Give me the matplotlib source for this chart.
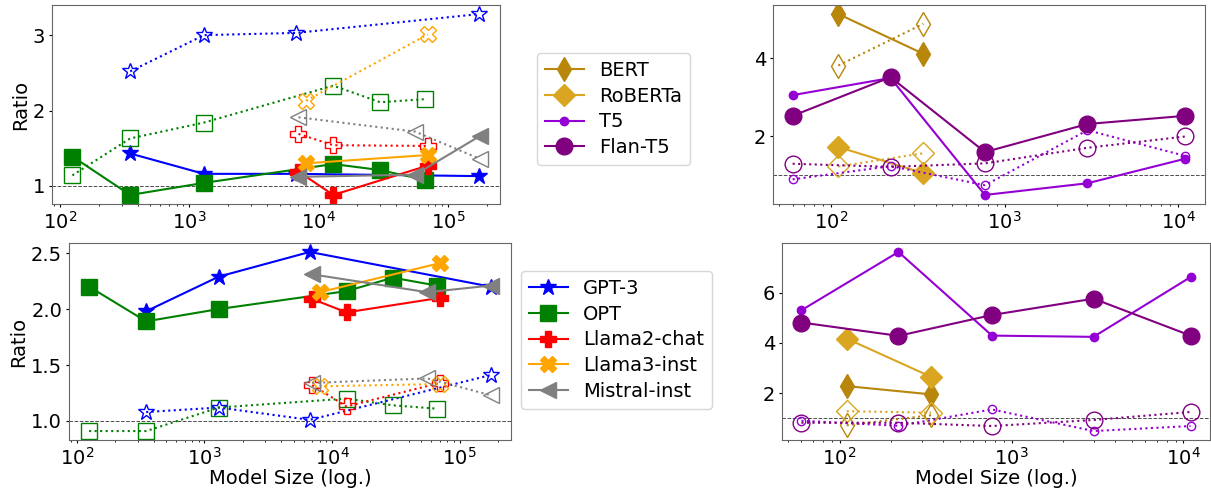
import matplotlib.pyplot as plt

plt.rcParams['font.size'] = 14
plt.rcParams['xtick.major.size'] = 2.5
plt.rcParams['ytick.major.size'] = 2.5
plt.rcParams['xtick.minor.size'] = 1.5
plt.rcParams['xtick.major.pad'] = 2.5
plt.rcParams['ytick.major.pad'] = 2.5

# model sizes (millions of parameters)
gpt3_size = [350, 1300, 6700, 175000]
opt_size = [125, 350, 1300, 13000, 30000, 66000]
llama2_size = [7000, 13000, 70000]
llama3_size = [8000, 70000]
mistral_size = [7000, 56000, 176000]
bert_size = [110, 340]
roberta_size = [110, 340]
t5_size = [60, 220, 770, 3000, 11000]

# top-left panel: solid (filled) and dotted (hollow) series
gpt3_tl = [1.43, 1.16, 1.16, 1.13]
gpt3_tl_h = [2.52, 3.00, 3.03, 3.28]
opt_tl = [1.39, 0.88, 1.04, 1.29, 1.21, 1.08]
opt_tl_h = [1.14, 1.63, 1.84, 2.33, 2.11, 2.15]
llama2_tl = [1.19, 0.88, 1.27]
llama2_tl_h = [1.69, 1.54, 1.53]
llama3_tl = [1.30, 1.41]
llama3_tl_h = [2.13, 3.01]
mistral_tl = [1.12, 1.15, 1.66]
mistral_tl_h = [1.91, 1.72, 1.36]

# bottom-left panel
gpt3_bl = [1.98, 2.29, 2.51, 2.20]
gpt3_bl_h = [1.08, 1.12, 1.01, 1.41]
opt_bl = [2.20, 1.89, 2.00, 2.16, 2.28, 2.21]
opt_bl_h = [0.91, 0.91, 1.12, 1.20, 1.14, 1.11]
llama2_bl = [2.09, 1.97, 2.10]
llama2_bl_h = [1.32, 1.13, 1.34]
llama3_bl = [2.15, 2.41]
llama3_bl_h = [1.31, 1.33]
mistral_bl = [2.31, 2.15, 2.21]
mistral_bl_h = [1.34, 1.38, 1.23]

# top-right panel
bert_tr = [5.13, 4.11]
bert_tr_h = [3.81, 4.88]
roberta_tr = [1.72, 1.05]
roberta_tr_h = [1.22, 1.56]
t5_tr = [3.05, 3.49, 0.49, 0.79, 1.42]
t5_tr_h = [0.89, 1.23, 0.74, 2.15, 1.49]
flan_tr = [2.52, 3.51, 1.59, 2.31, 2.52]
flan_tr_h = [1.29, 1.21, 1.30, 1.70, 1.99]

# bottom-right panel
bert_br = [2.28, 1.95]
bert_br_h = [0.72, 1.12]
roberta_br = [4.17, 2.65]
roberta_br_h = [1.28, 1.22]
t5_br = [5.30, 7.62, 4.29, 4.24, 6.62]
t5_br_h = [0.90, 0.70, 1.35, 0.49, 0.69]
flan_br = [4.81, 4.28, 5.11, 5.76, 4.29]
flan_br_h = [0.82, 0.82, 0.69, 0.93, 1.25]

dec_style = {
    'GPT-3': ('blue', '*', 12),
    'OPT': ('green', 's', 11),
    'Llama2-chat': ('red', 'P', 12),
    'Llama3-inst': ('orange', 'X', 12),
    'Mistral-inst': ('gray', '<', 12),
}
enc_style = {
    'BERT': ('darkgoldenrod', 'd', 12),
    'RoBERTa': ('goldenrod', 'D', 11),
    'T5': ('darkviolet', 'o', 6),
    'Flan-T5': ('purple', 'o', 12),
}

W, H = 1211, 488
fig = plt.figure(figsize=(W / 100, H / 100), dpi=100)


def box(l, t, r, b):
    return [l / W, 1 - b / H, (r - l) / W, (b - t) / H]


ax_tl = fig.add_axes(box(52, 5, 500, 204))
ax_bl = fig.add_axes(box(69, 243, 511, 440))
ax_tr = fig.add_axes(box(773, 5, 1205, 204))
ax_br = fig.add_axes(box(782, 243, 1210, 440))


def draw(ax, style, series):
    handles = []
    for name, x, filled, hollow in series:
        c, m, ms = style[name]
        h, = ax.plot(x, filled, '-', color=c, marker=m, ms=ms, lw=1.5,
                     label=name)
        ax.plot(x, hollow, ':', color=c, marker=m, ms=ms, lw=1.5,
                mfc='none', mew=1.0)
        handles.append(h)
    ax.set_xscale('log')
    ax.axhline(1, color='0.3', ls='--', lw=0.7, zorder=0)
    for s in ax.spines.values():
        s.set_color('0.4')
    return handles


hd = draw(ax_tl, dec_style, [
    ('GPT-3', gpt3_size, gpt3_tl, gpt3_tl_h),
    ('OPT', opt_size, opt_tl, opt_tl_h),
    ('Llama2-chat', llama2_size, llama2_tl, llama2_tl_h),
    ('Llama3-inst', llama3_size, llama3_tl, llama3_tl_h),
    ('Mistral-inst', mistral_size, mistral_tl, mistral_tl_h),
])
draw(ax_bl, dec_style, [
    ('GPT-3', gpt3_size, gpt3_bl, gpt3_bl_h),
    ('OPT', opt_size, opt_bl, opt_bl_h),
    ('Llama2-chat', llama2_size, llama2_bl, llama2_bl_h),
    ('Llama3-inst', llama3_size, llama3_bl, llama3_bl_h),
    ('Mistral-inst', mistral_size, mistral_bl, mistral_bl_h),
])
he = draw(ax_tr, enc_style, [
    ('BERT', bert_size, bert_tr, bert_tr_h),
    ('RoBERTa', roberta_size, roberta_tr, roberta_tr_h),
    ('T5', t5_size, t5_tr, t5_tr_h),
    ('Flan-T5', t5_size, flan_tr, flan_tr_h),
])
draw(ax_br, enc_style, [
    ('BERT', bert_size, bert_br, bert_br_h),
    ('RoBERTa', roberta_size, roberta_br, roberta_br_h),
    ('T5', t5_size, t5_br, t5_br_h),
    ('Flan-T5', t5_size, flan_br, flan_br_h),
])

ax_tl.set_yticks([1, 2, 3])
ax_bl.set_yticks([1.0, 1.5, 2.0, 2.5])
ax_bl.set_yticklabels(['1.0', '1.5', '2.0', '2.5'])
ax_tr.set_yticks([2, 4])
ax_br.set_yticks([2, 4, 6])

ax_tl.set_ylabel('Ratio', labelpad=2)
ax_bl.set_ylabel('Ratio', labelpad=2)
ax_bl.set_xlabel('Model Size (log.)', labelpad=0)
ax_br.set_xlabel('Model Size (log.)', labelpad=0)

fig.legend(handles=he, loc='upper left', bbox_to_anchor=(537 / W, 1 - 53 / H),
           borderaxespad=0, labelspacing=0.35)
fig.legend(handles=hd, loc='upper left', bbox_to_anchor=(521 / W, 1 - 271 / H),
           borderaxespad=0, labelspacing=0.35)

fig.savefig('out.png', dpi=100)
